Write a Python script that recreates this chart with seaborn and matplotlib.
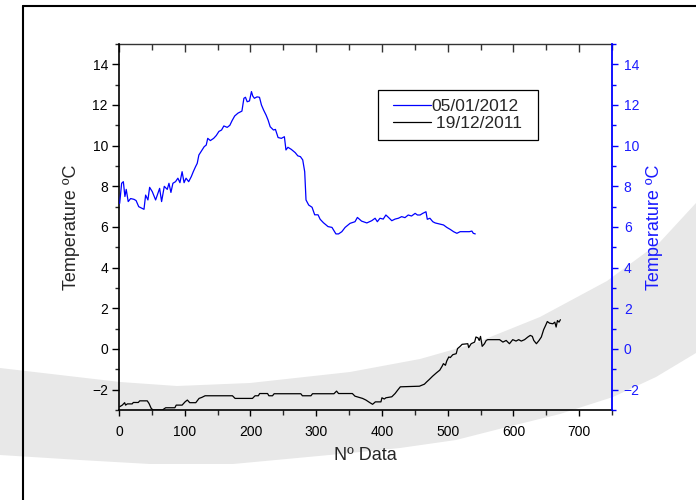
import matplotlib
matplotlib.use("Agg")
import matplotlib.pyplot as plt
from matplotlib.lines import Line2D
from matplotlib.patches import Polygon, Rectangle
from matplotlib.ticker import MultipleLocator
import seaborn as sns

# Temperature record of 05/01/2012 (right axis, blue)
blue_x = [1, 4, 6.6, 9, 11, 14, 17.7, 22.8, 26, 30, 38, 40.5, 44, 46.6, 50.6, 55.7,
          61.8, 64.8, 68.9, 73.4, 76, 79, 82, 86, 89.6, 92.7, 96, 99, 102, 106, 110,
          113, 116.5, 119, 121.5, 125.6, 129.6, 132.7, 135, 139, 144, 148, 152, 156,
          159.5, 164.6, 168.6, 172, 176, 181, 187, 190, 192.4, 195, 198.5, 201.5,
          203.5, 206, 210, 213.7, 216.7, 220, 223.8, 226.8, 230, 235, 238, 242, 247,
          251.6, 254, 257, 262, 268, 272, 276, 279.5, 282.5, 284.5, 288.6, 293.7,
          297.7, 302.8, 306, 311, 318, 324, 330, 334, 339, 344, 351.5, 359, 362.7,
          369, 377, 384.5, 389.6, 393, 397, 402, 406, 410, 415, 420, 425, 430, 435,
          440, 445, 450.5, 454, 458, 462, 467, 469, 473, 477.4, 481, 487.6, 493.7,
          498.7, 504, 509, 514, 519, 526.6, 533, 536.8, 539, 542]
blue_y = [7.16, 8.15, 8.23, 7.5, 7.85, 7.25, 7.4, 7.36, 7.3, 7.0, 6.87, 7.57, 7.33,
          7.95, 7.74, 7.33, 7.9, 7.25, 8.0, 7.85, 8.15, 7.7, 8.15, 8.23, 8.4, 8.18,
          8.72, 8.18, 8.4, 8.23, 8.48, 8.72, 8.97, 9.13, 9.54, 9.75, 9.95, 10.03,
          10.36, 10.25, 10.36, 10.5, 10.7, 10.77, 10.97, 10.9, 11.0, 11.23, 11.46,
          11.6, 11.7, 12.33, 12.38, 12.16, 12.2, 12.66, 12.44, 12.33, 12.4, 12.38,
          12.0, 11.75, 11.5, 11.26, 10.93, 10.77, 10.8, 10.4, 10.36, 10.44, 9.79,
          9.92, 9.82, 9.66, 9.5, 9.46, 9.3, 8.72, 7.33, 7.08, 6.97, 6.6, 6.6, 6.38,
          6.21, 6.02, 5.98, 5.66, 5.66, 5.77, 5.98, 6.18, 6.26, 6.47, 6.29, 6.2,
          6.31, 6.43, 6.26, 6.43, 6.39, 6.59, 6.47, 6.31, 6.39, 6.43, 6.51, 6.46,
          6.59, 6.54, 6.67, 6.59, 6.59, 6.67, 6.75, 6.38, 6.43, 6.26, 6.2, 6.15,
          6.1, 5.98, 5.88, 5.77, 5.69, 5.77, 5.77, 5.77, 5.8, 5.69, 5.66]

# Temperature record of 19/12/2011 (left axis, black)
black_x = [1, 5, 8.6, 10, 12.7, 20, 21.8, 29.4, 31.5, 43, 45.7, 49, 51.8, 66, 71, 85,
           87, 96, 100.5, 104, 107.6, 116.8, 121.8, 126, 131, 172.6, 176.6, 203, 207,
           212, 214, 226, 228, 233.5, 236, 276.6, 279, 292, 294.4, 327, 331, 334,
           355, 359, 370.5, 375.6, 381.7, 385.8, 390, 398.5, 400, 403.6, 406, 415,
           420, 424, 428, 457, 464.6, 468, 472, 477, 483, 488, 491.5, 493.5, 496.6,
           498.6, 501.7, 504, 507.8, 513, 515, 519, 522, 530.6, 532, 535.7, 541, 543,
           546, 548, 550, 552.5, 556, 558.6, 561, 579, 584, 589, 594, 599, 604, 608,
           612, 617, 622, 625.7, 628.8, 631, 635, 639, 642.5, 646, 649, 651.6, 655,
           660, 663, 665, 667, 669.4, 671.5]
black_y = [-2.84, -2.76, -2.64, -2.76, -2.7, -2.7, -2.63, -2.63, -2.55, -2.55, -2.68,
           -2.92, -3.0, -3.0, -2.89, -2.89, -2.76, -2.76, -2.6, -2.51, -2.64, -2.64,
           -2.43, -2.38, -2.3, -2.3, -2.43, -2.43, -2.3, -2.3, -2.19, -2.19, -2.3,
           -2.3, -2.2, -2.2, -2.3, -2.3, -2.2, -2.2, -2.07, -2.19, -2.19, -2.32,
           -2.43, -2.51, -2.64, -2.72, -2.6, -2.6, -2.4, -2.46, -2.4, -2.35, -2.19,
           -2.02, -1.86, -1.83, -1.73, -1.62, -1.5, -1.34, -1.17, -1.04, -0.85,
           -0.72, -0.8, -0.59, -0.39, -0.42, -0.28, -0.23, 0.02, 0.13, 0.23, 0.26,
           0.07, 0.26, 0.34, 0.59, 0.55, 0.42, 0.62, 0.13, 0.26, 0.42, 0.46, 0.46,
           0.34, 0.42, 0.26, 0.46, 0.39, 0.46, 0.39, 0.46, 0.59, 0.67, 0.62, 0.42,
           0.26, 0.42, 0.59, 0.95, 1.16, 1.35, 1.27, 1.24, 1.32, 1.08, 1.4, 1.32, 1.44]

series_labels = ["05/01/2012", " 19/12/2011"]
x_label = "Nº Data"
y_label = "Temperature ºC"

sns.set_style("ticks")
plt.rcParams["font.family"] = ["Liberation Sans", "DejaVu Sans"]

W, H = 696, 500
fig = plt.figure(figsize=(W / 100, H / 100), dpi=100)
fig.patch.set_facecolor("white")

# light grey swoosh band across the page background (pixel coords, y downward)
band_top = [(0, 368), (60, 375), (120, 382), (177, 386), (250, 383), (350, 372),
            (420, 359), (473, 344), (540, 317), (607, 281), (660, 242), (696, 203)]
band_bot = [(696, 353), (656, 377), (613, 397), (560, 414), (507, 427), (456, 440),
            (400, 448), (340, 454), (233, 464), (150, 464), (80, 460), (0, 455)]
band = [(x / W, 1 - y / H) for x, y in band_top + band_bot]
fig.patches.append(Polygon(band, closed=True, transform=fig.transFigure,
                           facecolor="#e8e8e8", edgecolor="none", zorder=-10))

# page frame: left and top rules
fx, fy = 22.7 / W, 1 - 5.7 / H
fig.add_artist(Line2D([fx, fx], [0, fy], transform=fig.transFigure, color="black",
                      lw=1.5, zorder=-5))
fig.add_artist(Line2D([fx, 1], [fy, fy], transform=fig.transFigure, color="black",
                      lw=1.5, zorder=-5))

ax = fig.add_axes([119 / W, 1 - 410 / H, 493 / W, 366 / H])
ax.set_facecolor("none")
ax2 = ax.twinx()
ax2.set_facecolor("none")

sns.lineplot(x=black_x, y=black_y, ax=ax, color="black", lw=0.9,
             estimator=None, sort=False, legend=False)
sns.lineplot(x=blue_x, y=blue_y, ax=ax2, color="#0000ff", lw=0.9,
             estimator=None, sort=False, legend=False)

for a in (ax, ax2):
    a.set_xlim(0, 750)
    a.set_ylim(-3, 15)
    a.yaxis.set_major_locator(MultipleLocator(2))
    a.yaxis.set_minor_locator(MultipleLocator(1))
ax.xaxis.set_major_locator(MultipleLocator(100))
ax.xaxis.set_minor_locator(MultipleLocator(50))
ax2.set_yticks(range(-2, 15, 2))
ax.set_yticks(range(-2, 15, 2))

# left / bottom axes in black
ax.spines["right"].set_visible(False)
ax.spines["top"].set_visible(False)
for s in ("left", "bottom"):
    ax.spines[s].set_linewidth(1.2)
    ax.spines[s].set_color("black")
ax.tick_params(axis="y", which="major", direction="out", length=5, width=1.0,
               labelsize=10, pad=3, colors="black")
ax.tick_params(axis="y", which="minor", direction="out", length=3, width=1.0)
ax.tick_params(axis="x", which="major", direction="out", length=4.5, width=1.0,
               labelsize=10, pad=6, colors="black")
ax.tick_params(axis="x", which="minor", direction="out", length=3.5, width=1.0)

# right axis in blue
for s in ("left", "top", "bottom"):
    ax2.spines[s].set_visible(False)
ax2.spines["right"].set_color("#0000ff")
ax2.spines["right"].set_linewidth(1.3)
ax2.tick_params(axis="y", which="major", direction="out", length=4.5, width=1.0,
                labelsize=10, pad=4, colors="#0000ff", labelcolor="#1a1aff")
ax2.tick_params(axis="y", which="minor", direction="out", length=3, width=1.0,
                colors="#0000ff")

# top axis: inward ticks, no labels
top = ax.secondary_xaxis("top")
top.xaxis.set_major_locator(MultipleLocator(100))
top.xaxis.set_minor_locator(MultipleLocator(50))
top.spines["top"].set_color("#333333")
top.spines["top"].set_linewidth(1.0)
top.tick_params(axis="x", which="both", direction="in", length=5.5, width=1.0,
                labeltop=False, colors="#333333")
top.tick_params(axis="x", which="minor", length=4.5)

ax.set_xlabel(x_label, fontsize=13)
ax.xaxis.set_label_coords(0.5, -0.123)
ax.xaxis.label.set_va("center")
ax.set_ylabel(y_label, fontsize=13)
ax.yaxis.set_label_coords(-0.097, 0.5)
ax.yaxis.label.set_va("center")
ax2.set_ylabel(y_label, fontsize=13, color="#1a1aff")
ax2.yaxis.set_label_coords(1.087, 0.5)
ax2.yaxis.label.set_va("center")

# legend box and entries
ax2.add_patch(Rectangle((0.525, 0.738), 0.325, 0.136, transform=ax2.transAxes,
                        facecolor="white", edgecolor="black", lw=0.9, zorder=5))
handles = [ax2.lines[0], ax.lines[0]]
leg = ax2.legend(handles, series_labels, loc="center left",
                 bbox_to_anchor=(0.556, 0.806), bbox_transform=ax2.transAxes,
                 frameon=False, fontsize=12.5, handlelength=2.2, handletextpad=0.0,
                 labelspacing=0.1, borderpad=0.0, borderaxespad=0.0)
leg.set_zorder(6)

fig.savefig("out.png", dpi=100, facecolor="white")
